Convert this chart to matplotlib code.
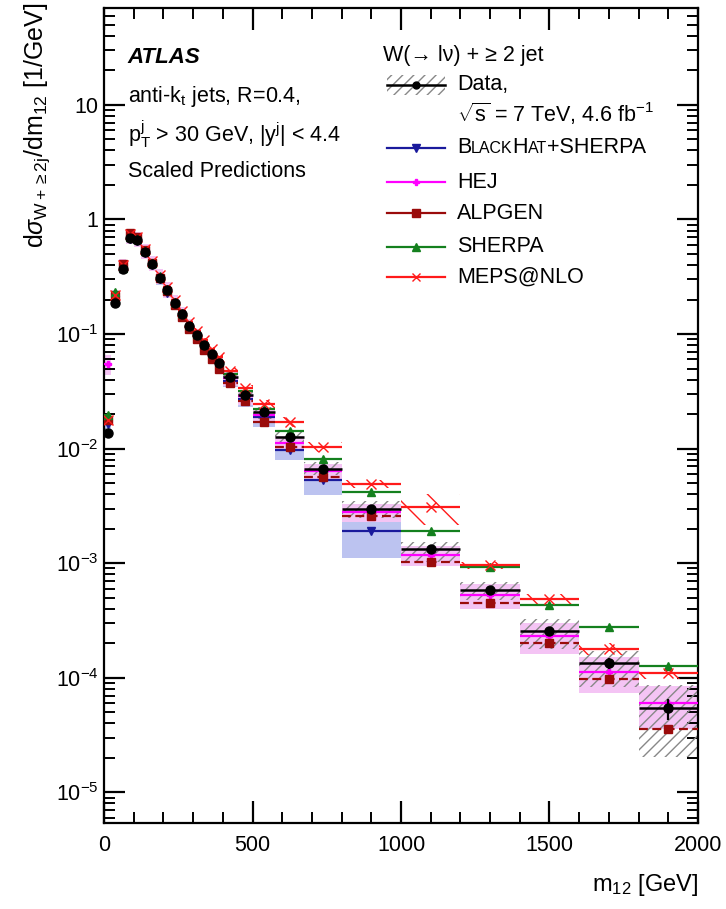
import numpy as np
import matplotlib
matplotlib.use("Agg")
import matplotlib.pyplot as plt
from matplotlib.ticker import FixedLocator, MultipleLocator, FuncFormatter, NullFormatter
from matplotlib.lines import Line2D
from matplotlib.patches import Rectangle
from matplotlib.offsetbox import TextArea, HPacker, AnnotationBbox

plt.rcParams['font.family'] = ['Liberation Sans', 'DejaVu Sans']
plt.rcParams['mathtext.fontset'] = 'custom'
plt.rcParams['mathtext.rm'] = 'Liberation Sans'
plt.rcParams['mathtext.it'] = 'Liberation Sans:italic'
plt.rcParams['mathtext.bf'] = 'Liberation Sans:bold'
plt.rcParams['hatch.linewidth'] = 1.0

# ---------------- data ----------------
bin_edges = [0, 25, 50, 75, 100, 125, 150, 175, 200, 225, 250, 275, 300, 325, 350, 375, 400,
             450, 500, 575, 675, 800, 1000, 1200, 1400, 1600, 1800, 2000]

data = [0.0137, 0.188, 0.37, 0.69, 0.66, 0.52, 0.41, 0.31, 0.24, 0.188, 0.149, 0.118, 0.098,
        0.080, 0.067, 0.056, 0.042, 0.0294, 0.0207, 0.0127, 0.0067, 0.0030, 0.00132, 0.00058,
        0.000257, 0.000134, 0.000054]
data_stat = [0.03, 0.01, 0.01, 0.01, 0.01, 0.01, 0.01, 0.01, 0.01, 0.01, 0.01, 0.015, 0.015,
             0.015, 0.02, 0.02, 0.02, 0.02, 0.02, 0.03, 0.03, 0.04, 0.05, 0.06, 0.08, 0.11, 0.2]
data_sys_up = [0.10, 0.08, 0.07, 0.07, 0.07, 0.07, 0.07, 0.07, 0.08, 0.08, 0.08, 0.08, 0.09,
               0.09, 0.09, 0.10, 0.10, 0.11, 0.12, 0.13, 0.15, 0.17, 0.17, 0.19, 0.27, 0.27, 0.60]
data_sys_dn = [0.10, 0.08, 0.07, 0.07, 0.07, 0.07, 0.07, 0.07, 0.08, 0.08, 0.08, 0.08, 0.09,
               0.09, 0.09, 0.10, 0.10, 0.11, 0.12, 0.13, 0.13, 0.17, 0.22, 0.17, 0.30, 0.38, 0.62]

blackhat = [0.0163, 0.20, 0.37, 0.68, 0.65, 0.51, 0.40, 0.30, 0.23, 0.18, 0.142, 0.112, 0.092,
            0.075, 0.062, 0.052, 0.039, 0.027, 0.0187, 0.0097, 0.0053, 0.0019]
blackhat_up = [0.10, 0.10, 0.10, 0.10, 0.10, 0.10, 0.10, 0.10, 0.10, 0.10, 0.10, 0.10, 0.10,
               0.10, 0.10, 0.10, 0.12, 0.15, 0.20, 0.25, 0.35, 0.50]
blackhat_dn = [0.10, 0.10, 0.10, 0.10, 0.10, 0.10, 0.10, 0.10, 0.10, 0.10, 0.10, 0.10, 0.10,
               0.10, 0.10, 0.10, 0.12, 0.15, 0.18, 0.18, 0.26, 0.42]

hej = [0.055, 0.21, 0.39, 0.72, 0.68, 0.53, 0.42, 0.32, 0.245, 0.19, 0.150, 0.118, 0.097,
       0.079, 0.066, 0.055, 0.041, 0.0285, 0.0197, 0.0112, 0.0064, 0.0028, 0.00118, 0.00053,
       0.00023, 0.000113, 0.000060]
hej_unc = [0.20, 0.15, 0.15, 0.15, 0.15, 0.15, 0.15, 0.15, 0.15, 0.15, 0.15, 0.15, 0.15, 0.15,
           0.15, 0.15, 0.15, 0.15, 0.15, 0.15, 0.15, 0.18, 0.20, 0.25, 0.30, 0.35, 0.40]

alpgen = [0.0178, 0.215, 0.41, 0.76, 0.70, 0.54, 0.42, 0.31, 0.235, 0.18, 0.140, 0.110, 0.090,
          0.073, 0.060, 0.050, 0.037, 0.0262, 0.0172, 0.0104, 0.0057, 0.0026, 0.00103, 0.00045,
          0.000200, 0.000098, 0.000036]

sherpa = [0.0196, 0.234, 0.38, 0.70, 0.67, 0.53, 0.42, 0.32, 0.245, 0.19, 0.152, 0.121, 0.101,
          0.083, 0.070, 0.059, 0.045, 0.032, 0.022, 0.0141, 0.0081, 0.0042, 0.0019, 0.00093,
          0.00043, 0.00028, 0.000127]

meps = [0.0178, 0.22, 0.40, 0.74, 0.70, 0.55, 0.43, 0.33, 0.255, 0.20, 0.160, 0.128, 0.107,
        0.088, 0.074, 0.063, 0.0477, 0.0337, 0.0245, 0.0170, 0.0104, 0.0049, 0.0031, 0.00096,
        0.00049, 0.00018, 0.00011]
meps_unc = [0.05, 0.05, 0.05, 0.05, 0.05, 0.05, 0.05, 0.05, 0.05, 0.05, 0.05, 0.05, 0.05, 0.05,
            0.05, 0.05, 0.06, 0.07, 0.08, 0.10, 0.10, 0.08, 0.30, 0.07, 0.10, 0.12, 0.12]

y_tick_vals = [1e-5, 1e-4, 1e-3, 1e-2, 1e-1, 1, 10]
y_tick_labels = ['10$^{-5}$', '10$^{-4}$', '10$^{-3}$', '10$^{-2}$', '10$^{-1}$', '1', '10']

# ---------------- colours ----------------
C_BH = '#1a1a9c'
C_HEJ = '#ff00ff'
C_ALP = '#9a0b0b'
C_SH = '#14801e'
C_MEPS = '#ff1a1a'

edges = np.array(bin_edges, dtype=float)
lo = edges[:-1]
hi = edges[1:]
wid = hi - lo
ctr = 0.5 * (lo + hi)

fig = plt.figure(figsize=(7.26, 9.09), dpi=100)
ax = fig.add_axes([0.1433, 0.0951, 0.8181, 0.8961])
ax.set_yscale('log')
ax.set_xlim(0, 2000)
ax.set_ylim(5.45e-6, 70)

def arr(a):
    return np.array(a, dtype=float)

# BlackHat band
nb = len(blackhat)
bh = arr(blackhat)
ax.bar(lo[:nb], bh * (arr(blackhat_up) + arr(blackhat_dn)), bottom=bh * (1 - arr(blackhat_dn)),
       width=wid[:nb], align='edge', color='#bcc3f0', lw=0, zorder=1)
# HEJ band
hj = arr(hej)
ax.bar(lo, hj * 2 * arr(hej_unc), bottom=hj * (1 - arr(hej_unc)), width=wid, align='edge',
       color='#f4c4f4', lw=0, zorder=1.5)
# Data band
d = arr(data)
ax.bar(lo, d * (arr(data_sys_up) + arr(data_sys_dn)), bottom=d * (1 - arr(data_sys_dn)),
       width=wid, align='edge', facecolor='none', edgecolor='#888888', hatch='///', lw=0, zorder=2)
# MEPS band
mp = arr(meps)
ax.bar(lo, mp * 2 * arr(meps_unc), bottom=mp * (1 - arr(meps_unc)), width=wid, align='edge',
       facecolor='none', edgecolor=C_MEPS, hatch='\\', lw=0, zorder=3)

def series(vals, color, marker, ms, ls='-', z=4):
    v = arr(vals)
    k = len(v)
    ax.hlines(v, lo[:k], hi[:k], colors=color, lw=1.6, linestyles=ls, zorder=z)
    ax.plot(ctr[:k], v, ls='none', marker=marker, ms=ms, color=color, mec=color, zorder=z + 0.1)

series(blackhat, C_BH, 'v', 5.5)
series(hej, C_HEJ, 'P', 4.5)
series(alpgen, C_ALP, 's', 5.5, ls=(0, (4, 2)))
series(sherpa, C_SH, '^', 5.5)
series(meps, C_MEPS, 'x', 7)

# Data
ax.hlines(d, lo, hi, colors='black', lw=1.8, zorder=6)
ax.errorbar(ctr, d, yerr=d * arr(data_stat), fmt='o', color='black', ms=6.5, lw=1.6,
            capsize=0, zorder=7)

# ---------------- axes style ----------------
for s in ax.spines.values():
    s.set_linewidth(1.6)
ax.xaxis.set_major_locator(MultipleLocator(500))
ax.xaxis.set_minor_locator(MultipleLocator(100))
ax.yaxis.set_major_locator(FixedLocator(y_tick_vals))
ax.yaxis.set_major_formatter(FuncFormatter(lambda v, p: y_tick_labels[y_tick_vals.index(v)]
                                           if v in y_tick_vals else ''))
minors = [m * 10.0 ** e for e in range(-6, 2) for m in range(2, 10)]
ax.yaxis.set_minor_locator(FixedLocator(minors))
ax.yaxis.set_minor_formatter(NullFormatter())
ax.tick_params(axis='x', which='major', direction='in', length=16, width=1.6, top=True,
               labelsize=15.5, pad=9)
ax.tick_params(axis='x', which='minor', direction='in', length=8, width=1.4, top=True)
ax.tick_params(axis='y', which='major', direction='in', length=15, width=1.6, right=True,
               labelsize=15.5, pad=4)
ax.tick_params(axis='y', which='minor', direction='in', length=8, width=1.4, right=True)

fig.text(0.051, 0.997, r'd$\sigma_{\mathrm{W+\geq 2j}}$/dm$_{\mathrm{12}}$ [1/GeV]', rotation=90,
         ha='center', va='top', fontsize=18)
fig.text(0.962, 1 - 885 / 909, r'm$_{\mathrm{12}}$ [GeV]', ha='right', va='center', fontsize=17)

# ---------------- annotations ----------------
ax.text(0.040, 0.939, 'ATLAS', transform=ax.transAxes, fontsize=16, fontweight='bold',
        fontstyle='italic', va='center', ha='left')
ax.text(0.040, 0.891, r'anti-k$_{\mathrm{t}}$ jets, R=0.4,', transform=ax.transAxes,
        fontsize=15.5, va='center', ha='left')
ax.text(0.040, 0.845, r'p$_{\mathrm{T}}^{\mathrm{j}}$ > 30 GeV, |y$^{\mathrm{j}}$| < 4.4',
        transform=ax.transAxes, fontsize=15.5, va='center', ha='left')
ax.text(0.040, 0.799, 'Scaled Predictions', transform=ax.transAxes, fontsize=15.5,
        va='center', ha='left')

# ---------------- legend (manual) ----------------
lx0, lx1, tx = 0.476, 0.574, 0.594
ax.text(0.470, 0.942, 'W(→ lν) + ≥ 2 jet', transform=ax.transAxes,
        fontsize=15.5, va='center', ha='left')

yd = 0.9055
ax.add_patch(Rectangle((lx0, yd - 0.012), lx1 - lx0, 0.024, transform=ax.transAxes,
                       facecolor='none', edgecolor='#888888', hatch='///', lw=0, zorder=5))
ax.add_line(Line2D([lx0, lx1], [yd, yd], transform=ax.transAxes, color='black', lw=1.8, zorder=6))
ax.plot([0.5 * (lx0 + lx1)], [yd], 'o', color='black', ms=5, transform=ax.transAxes, zorder=7)
ax.text(tx, yd, 'Data,', transform=ax.transAxes, fontsize=15.5, va='center', ha='left')
ax.text(tx, 0.870, r'$\sqrt{\mathregular{s}}$ = 7 TeV, 4.6 fb$^{-1}$', transform=ax.transAxes,
        fontsize=15.5, va='center', ha='left')

entries = [
    (0.828, C_BH, 'v', '-', None),
    (0.786, C_HEJ, 'P', '-', 'HEJ'),
    (0.748, C_ALP, 's', '-', 'ALPGEN'),
    (0.707, C_SH, '^', '-', 'SHERPA'),
    (0.670, C_MEPS, 'x', '-', 'MEPS@NLO'),
]
for yy, col, mk, ls, lab in entries:
    ax.add_line(Line2D([lx0, lx1], [yy, yy], transform=ax.transAxes, color=col, lw=1.6,
                       ls=ls, zorder=6))
    ax.plot([0.5 * (lx0 + lx1)], [yy], marker=mk, ls='none', color=col,
            ms=6 if mk != 'P' else 4.5, transform=ax.transAxes, zorder=7)
    if lab is not None:
        ax.text(tx, yy, lab, transform=ax.transAxes, fontsize=15.5, va='center', ha='left')

big = dict(size=15.5, family=['Liberation Sans', 'DejaVu Sans'])
small = dict(size=11.5, family=['Liberation Sans', 'DejaVu Sans'])
parts = [TextArea('B', textprops=big), TextArea('LACK', textprops=small),
         TextArea('H', textprops=big), TextArea('AT', textprops=small),
         TextArea('+SHERPA', textprops=big)]
pack = HPacker(children=parts, align='baseline', pad=0, sep=0)
ab = AnnotationBbox(pack, (tx, 0.828), xycoords='axes fraction', box_alignment=(0, 0.45),
                    frameon=False, pad=0)
ax.add_artist(ab)

fig.savefig('out.png', dpi=100)
